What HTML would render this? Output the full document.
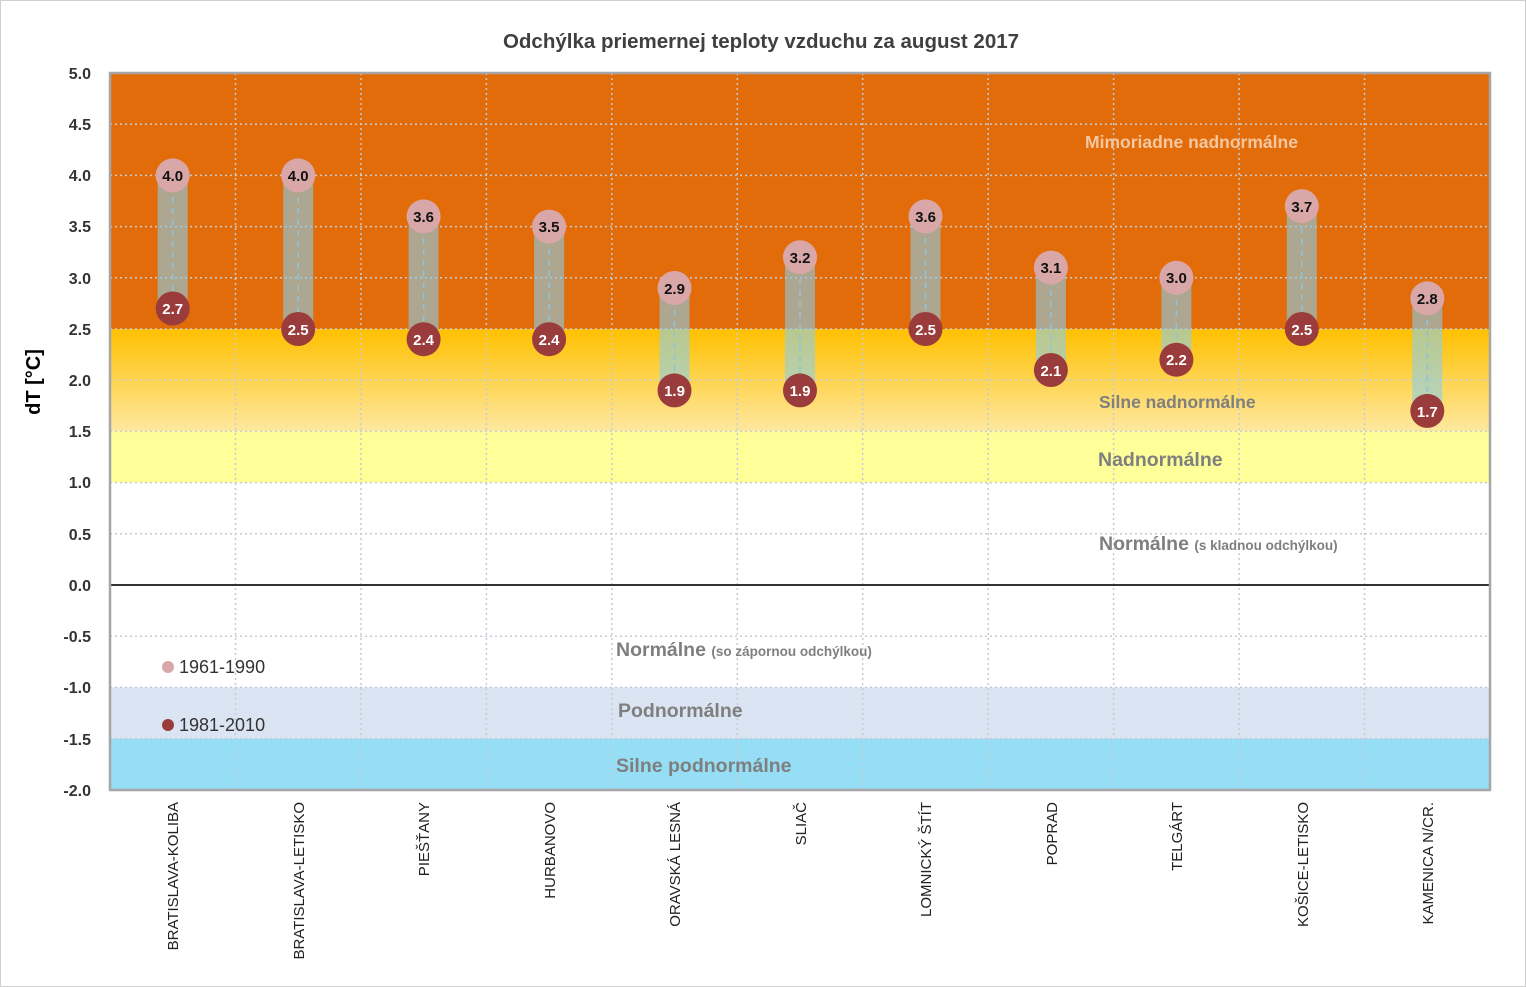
<!DOCTYPE html>
<html><head><meta charset="utf-8"><style>
html,body{margin:0;padding:0;background:#fff}
svg{display:block;font-family:"Liberation Sans",sans-serif}
</style></head><body>
<svg width="1526" height="987" viewBox="0 0 1526 987">
<defs>
<linearGradient id="g1" x1="0" y1="0" x2="0" y2="1">
<stop offset="0" stop-color="#FFC000"/><stop offset="1" stop-color="#FDE8A0"/></linearGradient>
</defs>
<rect x="0.5" y="0.5" width="1525" height="986" fill="#fff" stroke="#d0d0d0"/>
<text x="761" y="48" text-anchor="middle" font-size="20.5" font-weight="bold" fill="#404040">Odchýlka priemernej teploty vzduchu za august 2017</text>
<rect x="110" y="73" width="1380" height="256" fill="#E36C0A"/>
<rect x="110" y="329" width="1380" height="102.4" fill="url(#g1)"/>
<rect x="110" y="431.4" width="1380" height="51.2" fill="#FFFF99"/>
<rect x="110" y="687.4" width="1380" height="51.2" fill="#DAE4F2"/>
<rect x="110" y="738.6" width="1380" height="51.2" fill="#96DDF6"/>
<g stroke="#c4ccd6" stroke-width="1.5" stroke-dasharray="2,3">
<line x1="110" x2="1490" y1="124.2" y2="124.2"/><line x1="110" x2="1490" y1="175.4" y2="175.4"/>
<line x1="110" x2="1490" y1="226.6" y2="226.6"/><line x1="110" x2="1490" y1="277.8" y2="277.8"/>
<line x1="110" x2="1490" y1="329" y2="329"/><line x1="110" x2="1490" y1="380.2" y2="380.2"/>
<line x1="110" x2="1490" y1="431.4" y2="431.4"/><line x1="110" x2="1490" y1="482.6" y2="482.6"/>
<line x1="110" x2="1490" y1="533.8" y2="533.8"/><line x1="110" x2="1490" y1="636.2" y2="636.2"/>
<line x1="110" x2="1490" y1="687.4" y2="687.4"/><line x1="110" x2="1490" y1="738.6" y2="738.6"/>
<line y1="73" y2="790" x1="235.5" x2="235.5"/><line y1="73" y2="790" x1="361" x2="361"/>
<line y1="73" y2="790" x1="486.4" x2="486.4"/><line y1="73" y2="790" x1="611.8" x2="611.8"/>
<line y1="73" y2="790" x1="737.3" x2="737.3"/><line y1="73" y2="790" x1="862.7" x2="862.7"/>
<line y1="73" y2="790" x1="988.2" x2="988.2"/><line y1="73" y2="790" x1="1113.6" x2="1113.6"/>
<line y1="73" y2="790" x1="1239.1" x2="1239.1"/><line y1="73" y2="790" x1="1364.5" x2="1364.5"/>
</g>
<line x1="110" x2="1490" y1="585" y2="585" stroke="#333" stroke-width="2"/>
<rect x="110" y="73" width="1380" height="717" fill="none" stroke="#a6a6a6" stroke-width="2.5"/>
<g font-weight="bold" fill="#7f7f7f">
<text x="1085" y="148" font-size="17.5" fill="#F4C7A0">Mimoriadne nadnormálne</text>
<text x="1099" y="408" font-size="17.5">Silne nadnormálne</text>
<text x="1098" y="466" font-size="19.5">Nadnormálne</text>
<text x="1099" y="550" font-size="19.5">Normálne <tspan font-size="13.5">(s kladnou odchýlkou)</tspan></text>
<text x="616" y="656" font-size="19.5">Normálne <tspan font-size="13.5">(so zápornou odchýlkou)</tspan></text>
<text x="618" y="717" font-size="19.5">Podnormálne</text>
<text x="616" y="772" font-size="19.5">Silne podnormálne</text>
</g>
<g font-size="16" font-weight="bold" fill="#333" text-anchor="end">
<text x="91" y="79">5.0</text><text x="91" y="130">4.5</text><text x="91" y="181">4.0</text>
<text x="91" y="232">3.5</text><text x="91" y="284">3.0</text><text x="91" y="335">2.5</text>
<text x="91" y="386">2.0</text><text x="91" y="437">1.5</text><text x="91" y="488">1.0</text>
<text x="91" y="540">0.5</text><text x="91" y="591">0.0</text><text x="91" y="642">-0.5</text>
<text x="91" y="693">-1.0</text><text x="91" y="745">-1.5</text><text x="91" y="796">-2.0</text>
</g>
<text transform="translate(40,382) rotate(-90)" text-anchor="middle" font-size="20" font-weight="bold" fill="#000">dT [°C]</text>
<g fill="rgb(137,205,235)" fill-opacity="0.6">
<rect x="157.7" y="175.4" width="30" height="133.1"/>
<rect x="283.2" y="175.4" width="30" height="153.6"/>
<rect x="408.6" y="216.4" width="30" height="122.8"/>
<rect x="534.1" y="226.6" width="30" height="112.6"/>
<rect x="659.5" y="288" width="30" height="102.4"/>
<rect x="785" y="257.3" width="30" height="133.1"/>
<rect x="910.5" y="216.4" width="30" height="112.6"/>
<rect x="1035.9" y="267.6" width="30" height="102.4"/>
<rect x="1161.4" y="277.8" width="30" height="81.9"/>
<rect x="1286.8" y="206.1" width="30" height="122.9"/>
<rect x="1412.3" y="298.3" width="30" height="112.6"/>
</g>
<g stroke="#8fc4d8" stroke-width="1.5" stroke-dasharray="6,5">
<line x1="172.7" x2="172.7" y1="175" y2="308"/><line x1="298.2" x2="298.2" y1="175" y2="329"/>
<line x1="423.6" x2="423.6" y1="216" y2="339"/><line x1="549.1" x2="549.1" y1="227" y2="339"/>
<line x1="674.5" x2="674.5" y1="288" y2="390"/><line x1="800" x2="800" y1="257" y2="390"/>
<line x1="925.5" x2="925.5" y1="216" y2="329"/><line x1="1050.9" x2="1050.9" y1="268" y2="370"/>
<line x1="1176.4" x2="1176.4" y1="278" y2="360"/><line x1="1301.8" x2="1301.8" y1="206" y2="329"/>
<line x1="1427.3" x2="1427.3" y1="298" y2="411"/>
</g>
<g fill="#D9A7A7">
<circle cx="172.7" cy="175.4" r="17"/><circle cx="298.2" cy="175.4" r="17"/>
<circle cx="423.6" cy="216.4" r="17"/><circle cx="549.1" cy="226.6" r="17"/>
<circle cx="674.5" cy="288" r="17"/><circle cx="800" cy="257.3" r="17"/>
<circle cx="925.5" cy="216.4" r="17"/><circle cx="1050.9" cy="267.6" r="17"/>
<circle cx="1176.4" cy="277.8" r="17"/><circle cx="1301.8" cy="206.1" r="17"/>
<circle cx="1427.3" cy="298.3" r="17"/>
</g>
<g fill="#9B3C3C">
<circle cx="172.7" cy="308.5" r="17"/><circle cx="298.2" cy="329" r="17"/>
<circle cx="423.6" cy="339.2" r="17"/><circle cx="549.1" cy="339.2" r="17"/>
<circle cx="674.5" cy="390.4" r="17"/><circle cx="800" cy="390.4" r="17"/>
<circle cx="925.5" cy="329" r="17"/><circle cx="1050.9" cy="370" r="17"/>
<circle cx="1176.4" cy="359.7" r="17"/><circle cx="1301.8" cy="329" r="17"/>
<circle cx="1427.3" cy="410.9" r="17"/>
</g>
<g font-size="15" font-weight="bold" fill="#111" text-anchor="middle">
<text x="172.7" y="181">4.0</text><text x="298.2" y="181">4.0</text>
<text x="423.6" y="222">3.6</text><text x="549.1" y="232">3.5</text>
<text x="674.5" y="294">2.9</text><text x="800" y="263">3.2</text>
<text x="925.5" y="222">3.6</text><text x="1050.9" y="273">3.1</text>
<text x="1176.4" y="283">3.0</text><text x="1301.8" y="212">3.7</text>
<text x="1427.3" y="304">2.8</text>
</g>
<g font-size="15" font-weight="bold" fill="#fff" text-anchor="middle">
<text x="172.7" y="314">2.7</text><text x="298.2" y="335">2.5</text>
<text x="423.6" y="345">2.4</text><text x="549.1" y="345">2.4</text>
<text x="674.5" y="396">1.9</text><text x="800" y="396">1.9</text>
<text x="925.5" y="335">2.5</text><text x="1050.9" y="376">2.1</text>
<text x="1176.4" y="365">2.2</text><text x="1301.8" y="335">2.5</text>
<text x="1427.3" y="417">1.7</text>
</g>
<circle cx="168" cy="667" r="6" fill="#D9A7A7"/>
<text x="179" y="673" font-size="18" fill="#333">1961-1990</text>
<circle cx="168" cy="725" r="6" fill="#9B3C3C"/>
<text x="179" y="731" font-size="18" fill="#333">1981-2010</text>
<g font-size="15" fill="#222" text-anchor="end">
<text transform="translate(178,802) rotate(-90)">BRATISLAVA-KOLIBA</text>
<text transform="translate(304,802) rotate(-90)">BRATISLAVA-LETISKO</text>
<text transform="translate(429,802) rotate(-90)">PIEŠŤANY</text>
<text transform="translate(555,802) rotate(-90)">HURBANOVO</text>
<text transform="translate(680,802) rotate(-90)">ORAVSKÁ LESNÁ</text>
<text transform="translate(806,802) rotate(-90)">SLIAČ</text>
<text transform="translate(931,802) rotate(-90)">LOMNICKÝ ŠTÍT</text>
<text transform="translate(1057,802) rotate(-90)">POPRAD</text>
<text transform="translate(1182,802) rotate(-90)">TELGÁRT</text>
<text transform="translate(1308,802) rotate(-90)">KOŠICE-LETISKO</text>
<text transform="translate(1433,802) rotate(-90)">KAMENICA N/CR.</text>
</g>
</svg>
</body></html>
